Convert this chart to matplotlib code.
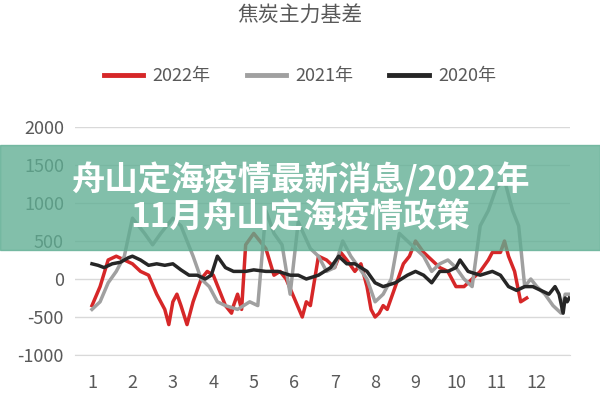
import matplotlib.pyplot as plt
from matplotlib.patches import Rectangle

plt.rcParams['font.family'] = ['Noto Sans CJK SC', 'DejaVu Sans']
plt.rcParams['axes.unicode_minus'] = False

x22 = [1, 1.2, 1.4, 1.6, 1.8, 2.0, 2.2, 2.4, 2.6, 2.7, 2.8, 2.9, 3.0, 3.1, 3.2, 3.35, 3.5, 3.7, 3.85, 4.0, 4.15, 4.3, 4.45, 4.5, 4.6, 4.7, 4.8, 5.0, 5.15, 5.3, 5.5, 5.65, 5.8, 6.0, 6.2, 6.3, 6.4, 6.6, 6.8, 7.0, 7.15, 7.3, 7.5, 7.65, 7.8, 7.9, 8.0, 8.1, 8.2, 8.3, 8.4, 8.5, 8.7, 8.85, 9.0, 9.2, 9.4, 9.6, 9.8, 10.0, 10.2, 10.4, 10.6, 10.8, 10.9, 11.1, 11.2, 11.3, 11.45, 11.6, 11.75]
y22 = [-350, -100, 250, 300, 250, 200, 100, 50, -200, -300, -400, -600, -300, -200, -350, -600, -300, 0, 100, 50, -150, -350, -450, -350, -200, -400, 450, 600, 500, 400, 50, 100, 0, -250, -500, -300, -350, 300, 250, 150, 350, 250, 100, 200, -100, -400, -500, -450, -350, -400, -250, -100, 200, 300, 500, 350, 250, 150, 100, -100, -100, 0, 100, 250, 350, 350, 500, 300, 100, -300, -250]

x21 = [1, 1.2, 1.4, 1.6, 1.8, 2.0, 2.3, 2.5, 2.7, 3.0, 3.2, 3.5, 3.7, 3.9, 4.1, 4.3, 4.6, 4.9, 5.1, 5.3, 5.5, 5.7, 5.9, 6.1, 6.4, 6.6, 6.8, 7.0, 7.2, 7.4, 7.6, 7.8, 8.0, 8.2, 8.4, 8.6, 8.8, 9.0, 9.2, 9.4, 9.6, 9.8, 10.0, 10.2, 10.4, 10.6, 10.8, 11.0, 11.2, 11.4, 11.55, 11.7, 11.85, 12.0, 12.2, 12.4, 12.6, 12.7, 12.8]
y21 = [-400, -300, -50, 100, 300, 800, 600, 450, 600, 800, 700, 300, 0, -100, -300, -350, -400, -300, -350, 900, 600, 450, -200, 750, 400, 300, 100, 150, 500, 300, 150, 0, -300, -200, 0, 600, 500, 400, 300, 100, 200, 250, 150, 0, -100, 700, 900, 1200, 1300, 900, 700, -100, 0, -100, -200, -350, -450, -200, -200]

x20 = [1, 1.15, 1.3, 1.5, 1.7, 1.9, 2.0, 2.2, 2.4, 2.6, 2.8, 3.0, 3.2, 3.4, 3.6, 3.8, 3.95, 4.1, 4.3, 4.5, 4.8, 5.0, 5.3, 5.6, 5.9, 6.1, 6.3, 6.6, 6.9, 7.1, 7.3, 7.5, 7.8, 8.0, 8.2, 8.5, 8.8, 9.0, 9.2, 9.4, 9.6, 9.8, 10.0, 10.1, 10.3, 10.6, 10.9, 11.1, 11.3, 11.5, 11.7, 11.9, 12.1, 12.3, 12.45, 12.55, 12.65, 12.7, 12.75, 12.8]
y20 = [200, 180, 150, 200, 220, 280, 300, 250, 180, 200, 180, 200, 120, 50, 50, 0, 50, 300, 150, 100, 100, 120, 100, 100, 50, 50, 0, 50, 150, 300, 200, 200, 100, -50, -100, -50, 50, 100, 50, -50, 100, 100, 150, 250, 100, 50, 100, 50, -100, -150, -100, -100, -150, -200, -100, -200, -450, -250, -300, -250]

fig = plt.figure(figsize=(6, 4), dpi=100)
ax = fig.add_axes([0.125, 0.1125, 0.825, 0.57])
ax.plot(x22, y22, color='#d62728', lw=2.5, zorder=2)
ax.plot(x21, y21, color='#a0a0a0', lw=2.5, zorder=3)
ax.plot(x20, y20, color='#262626', lw=2.5, zorder=4)

ax.set_xlim(0.58, 12.82)
ax.set_ylim(-1000, 2000)
ax.set_xticks(range(1, 13))
ax.set_yticks(range(-1000, 2001, 500))
ax.grid(axis='y', color='#d9d9d9', lw=1)
ax.set_axisbelow(True)
for s in ['top', 'right', 'left']:
    ax.spines[s].set_visible(False)
ax.spines['bottom'].set_color('#d9d9d9')
ax.tick_params(length=0, labelsize=13, colors='#595959', pad=8)
ax.tick_params(axis='x', pad=14)

fig.text(0.5, 0.945, '焦炭主力基差', ha='center', fontsize=15, color='#595959')
handles = [plt.Line2D([], [], color=c, lw=3.5) for c in ['#d62728', '#a0a0a0', '#262626']]
fig.legend(handles, ['2022年', '2021年', '2020年'], loc='center', bbox_to_anchor=(0.5, 0.81),
           ncol=3, frameon=False, fontsize=13, labelcolor='#595959', handlelength=2.2,
           columnspacing=2, handletextpad=0.5)

fig.patches.append(Rectangle((0, 0.375), 1, 0.262, transform=fig.transFigure,
                             color='#5fae93', alpha=0.78, zorder=10))
fig.text(0.5, 0.55, '舟山定海疫情最新消息/2022年', ha='center', va='center', fontsize=24,
         color='white', weight='bold', zorder=11)
fig.text(0.5, 0.455, '11月舟山定海疫情政策', ha='center', va='center', fontsize=24,
         color='white', weight='bold', zorder=11)

fig.savefig('out.png')
